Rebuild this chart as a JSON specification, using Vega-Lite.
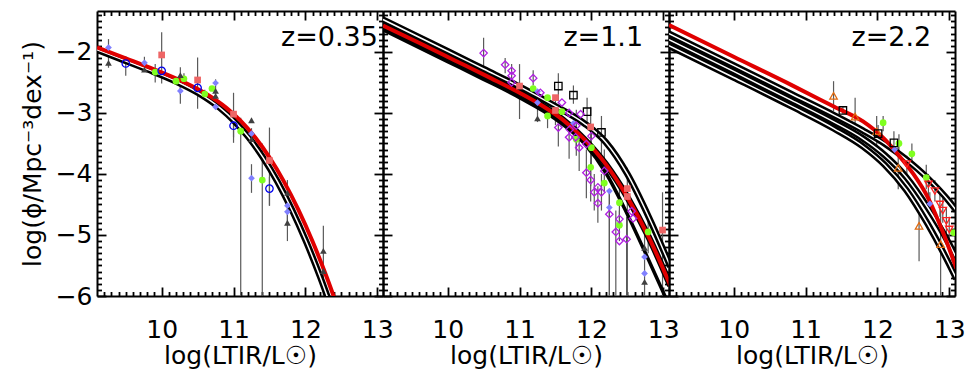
{
"$schema": "https://vega.github.io/schema/vega-lite/v6.json",
"padding": {"left": 20, "top": 3, "right": 5, "bottom": 5},
"background": "white",
"bounds": "flush",
"spacing": 0,
"config": {
 "view": {"stroke": null},
 "axis": {"domainColor": "black", "domainWidth": 2, "tickColor": "black", "tickWidth": 1.8, "grid": false, "labelFont": "DejaVu Sans", "labelFontSize": 25, "labelColor": "black", "titleFont": "DejaVu Sans", "titleFontSize": 25, "titleFontWeight": "normal", "titleColor": "black", "labelFlush": false, "labelOverlap": false}
},
"datasets": {
 "labels": [
  {"panel": 1, "x": 13.01, "y": -1.77, "label": "z=0.35"},
  {"panel": 2, "x": 12.72, "y": -1.78, "label": "z=1.1"},
  {"panel": 3, "x": 12.75, "y": -1.78, "label": "z=2.2"}
 ],
 "models": [
  {"panel":1,"line":"R1","style":"red","x":9.1,"y":-1.925},
  {"panel":1,"line":"R1","style":"red","x":9.5,"y":-2.106},
  {"panel":1,"line":"R1","style":"red","x":9.9,"y":-2.29},
  {"panel":1,"line":"R1","style":"red","x":10.3,"y":-2.49},
  {"panel":1,"line":"R1","style":"red","x":10.6,"y":-2.673},
  {"panel":1,"line":"R1","style":"red","x":10.9,"y":-2.917},
  {"panel":1,"line":"R1","style":"red","x":11.1,"y":-3.132},
  {"panel":1,"line":"R1","style":"red","x":11.3,"y":-3.40},
  {"panel":1,"line":"R1","style":"red","x":11.5,"y":-3.729},
  {"panel":1,"line":"R1","style":"red","x":11.7,"y":-4.122},
  {"panel":1,"line":"R1","style":"red","x":11.9,"y":-4.582},
  {"panel":1,"line":"R1","style":"red","x":12.1,"y":-5.108},
  {"panel":1,"line":"R1","style":"red","x":12.3,"y":-5.70},
  {"panel":1,"line":"R1","style":"red","x":12.5,"y":-6.36},
  {"panel":1,"line":"W1","style":"wc","x":9.01,"y":-1.925},
  {"panel":1,"line":"W1","style":"wc","x":9.41,"y":-2.106},
  {"panel":1,"line":"W1","style":"wc","x":9.81,"y":-2.29},
  {"panel":1,"line":"W1","style":"wc","x":10.21,"y":-2.49},
  {"panel":1,"line":"W1","style":"wc","x":10.51,"y":-2.673},
  {"panel":1,"line":"W1","style":"wc","x":10.81,"y":-2.917},
  {"panel":1,"line":"W1","style":"wc","x":11.01,"y":-3.132},
  {"panel":1,"line":"W1","style":"wc","x":11.21,"y":-3.40},
  {"panel":1,"line":"W1","style":"wc","x":11.41,"y":-3.729},
  {"panel":1,"line":"W1","style":"wc","x":11.61,"y":-4.122},
  {"panel":1,"line":"W1","style":"wc","x":11.81,"y":-4.582},
  {"panel":1,"line":"W1","style":"wc","x":12.01,"y":-5.108},
  {"panel":1,"line":"W1","style":"wc","x":12.21,"y":-5.70},
  {"panel":1,"line":"W1","style":"wc","x":12.41,"y":-6.36},
  {"panel":2,"line":"W2","style":"wc","x":9.1,"y":-1.47},
  {"panel":2,"line":"W2","style":"wc","x":10.0,"y":-1.99},
  {"panel":2,"line":"W2","style":"wc","x":10.5,"y":-2.28},
  {"panel":2,"line":"W2","style":"wc","x":11.0,"y":-2.57},
  {"panel":2,"line":"W2","style":"wc","x":11.5,"y":-2.89},
  {"panel":2,"line":"W2","style":"wc","x":11.9,"y":-3.17},
  {"panel":2,"line":"W2","style":"wc","x":12.2,"y":-3.48},
  {"panel":2,"line":"W2","style":"wc","x":12.5,"y":-4.00},
  {"panel":2,"line":"W2","style":"wc","x":12.8,"y":-4.71},
  {"panel":2,"line":"W2","style":"wc","x":13.1,"y":-5.52},
  {"panel":2,"line":"R2","style":"rc","x":9.1,"y":-1.57},
  {"panel":2,"line":"R2","style":"rc","x":9.6,"y":-1.85},
  {"panel":2,"line":"R2","style":"rc","x":10.1,"y":-2.14},
  {"panel":2,"line":"R2","style":"rc","x":10.6,"y":-2.43},
  {"panel":2,"line":"R2","style":"rc","x":11.0,"y":-2.67},
  {"panel":2,"line":"R2","style":"rc","x":11.3,"y":-2.87},
  {"panel":2,"line":"R2","style":"rc","x":11.6,"y":-3.11},
  {"panel":2,"line":"R2","style":"rc","x":11.9,"y":-3.43},
  {"panel":2,"line":"R2","style":"rc","x":12.2,"y":-3.84},
  {"panel":2,"line":"R2","style":"rc","x":12.5,"y":-4.38},
  {"panel":2,"line":"R2","style":"rc","x":12.8,"y":-5.04},
  {"panel":2,"line":"R2","style":"rc","x":13.1,"y":-5.83},
  {"panel":2,"line":"B2","style":"b","x":9.1,"y":-1.64},
  {"panel":2,"line":"B2","style":"b","x":10.0,"y":-2.16},
  {"panel":2,"line":"B2","style":"b","x":10.5,"y":-2.45},
  {"panel":2,"line":"B2","style":"b","x":11.0,"y":-2.75},
  {"panel":2,"line":"B2","style":"b","x":11.5,"y":-3.10},
  {"panel":2,"line":"B2","style":"b","x":11.9,"y":-3.50},
  {"panel":2,"line":"B2","style":"b","x":12.2,"y":-3.98},
  {"panel":2,"line":"B2","style":"b","x":12.5,"y":-4.66},
  {"panel":2,"line":"B2","style":"b","x":12.8,"y":-5.42},
  {"panel":2,"line":"B2","style":"b","x":13.1,"y":-6.2},
  {"panel":3,"line":"W3a","style":"wc","x":9.1,"y":-1.70},
  {"panel":3,"line":"W3a","style":"wc","x":10.0,"y":-2.22},
  {"panel":3,"line":"W3a","style":"wc","x":10.8,"y":-2.69},
  {"panel":3,"line":"W3a","style":"wc","x":11.4,"y":-3.04},
  {"panel":3,"line":"W3a","style":"wc","x":11.8,"y":-3.29},
  {"panel":3,"line":"W3a","style":"wc","x":12.1,"y":-3.50},
  {"panel":3,"line":"W3a","style":"wc","x":12.4,"y":-3.76},
  {"panel":3,"line":"W3a","style":"wc","x":12.7,"y":-4.07},
  {"panel":3,"line":"W3a","style":"wc","x":13.0,"y":-4.45},
  {"panel":3,"line":"W3a","style":"wc","x":13.1,"y":-4.60},
  {"panel":3,"line":"W3b","style":"wc","x":9.1,"y":-1.80},
  {"panel":3,"line":"W3b","style":"wc","x":10.0,"y":-2.32},
  {"panel":3,"line":"W3b","style":"wc","x":10.8,"y":-2.79},
  {"panel":3,"line":"W3b","style":"wc","x":11.4,"y":-3.15},
  {"panel":3,"line":"W3b","style":"wc","x":11.8,"y":-3.42},
  {"panel":3,"line":"W3b","style":"wc","x":12.1,"y":-3.69},
  {"panel":3,"line":"W3b","style":"wc","x":12.4,"y":-4.05},
  {"panel":3,"line":"W3b","style":"wc","x":12.7,"y":-4.55},
  {"panel":3,"line":"W3b","style":"wc","x":13.0,"y":-5.15},
  {"panel":3,"line":"W3b","style":"wc","x":13.1,"y":-5.38},
  {"panel":3,"line":"W3c","style":"wc","x":9.1,"y":-1.90},
  {"panel":3,"line":"W3c","style":"wc","x":10.0,"y":-2.42},
  {"panel":3,"line":"W3c","style":"wc","x":10.8,"y":-2.89},
  {"panel":3,"line":"W3c","style":"wc","x":11.4,"y":-3.26},
  {"panel":3,"line":"W3c","style":"wc","x":11.8,"y":-3.55},
  {"panel":3,"line":"W3c","style":"wc","x":12.1,"y":-3.85},
  {"panel":3,"line":"W3c","style":"wc","x":12.4,"y":-4.26},
  {"panel":3,"line":"W3c","style":"wc","x":12.7,"y":-4.82},
  {"panel":3,"line":"W3c","style":"wc","x":13.0,"y":-5.48},
  {"panel":3,"line":"W3c","style":"wc","x":13.1,"y":-5.72},
  {"panel":3,"line":"R3","style":"red","x":9.1,"y":-1.56},
  {"panel":3,"line":"R3","style":"red","x":10.0,"y":-2.08},
  {"panel":3,"line":"R3","style":"red","x":10.8,"y":-2.54},
  {"panel":3,"line":"R3","style":"red","x":11.4,"y":-2.90},
  {"panel":3,"line":"R3","style":"red","x":11.8,"y":-3.14},
  {"panel":3,"line":"R3","style":"red","x":12.1,"y":-3.43},
  {"panel":3,"line":"R3","style":"red","x":12.3,"y":-3.70},
  {"panel":3,"line":"R3","style":"red","x":12.5,"y":-4.00},
  {"panel":3,"line":"R3","style":"red","x":12.7,"y":-4.38},
  {"panel":3,"line":"R3","style":"red","x":12.9,"y":-4.92},
  {"panel":3,"line":"R3","style":"red","x":13.1,"y":-5.55}
 ],
 "pts": [
  {"panel":1,"kind":"bluediamond","x":9.26,"y":-1.93,"lo":-2.07,"hi":-1.79},
  {"panel":1,"kind":"triangle","x":9.26,"y":-2.18,"lo":-2.26,"hi":-2.08},
  {"panel":1,"kind":"bluecircle","x":9.50,"y":-2.19,"lo":-2.39,"hi":-2.07},
  {"panel":1,"kind":"bluediamond","x":9.76,"y":-2.18,"lo":-2.30,"hi":-2.08},
  {"panel":1,"kind":"triangle","x":9.76,"y":-2.29},
  {"panel":1,"kind":"green","x":9.91,"y":-2.33,"lo":-2.5,"hi":-2.2},
  {"panel":1,"kind":"salmon","x":10.0,"y":-2.05,"lo":-2.52,"hi":-1.68},
  {"panel":1,"kind":"bluecircle","x":10.0,"y":-2.31},
  {"panel":1,"kind":"green","x":10.20,"y":-2.48},
  {"panel":1,"kind":"green","x":10.31,"y":-2.44,"lo":-2.55,"hi":-2.35},
  {"panel":1,"kind":"triangle","x":10.26,"y":-2.38,"lo":-2.7,"hi":-2.25},
  {"panel":1,"kind":"bluediamond","x":10.26,"y":-2.64,"lo":-2.85,"hi":-2.55},
  {"panel":1,"kind":"salmon","x":10.50,"y":-2.46,"lo":-2.93,"hi":-2.09},
  {"panel":1,"kind":"bluecircle","x":10.50,"y":-2.59},
  {"panel":1,"kind":"green","x":10.60,"y":-2.69,"lo":-2.76,"hi":-2.62},
  {"panel":1,"kind":"green","x":10.70,"y":-2.60},
  {"panel":1,"kind":"triangle","x":10.75,"y":-2.64,"lo":-2.9,"hi":-2.45},
  {"panel":1,"kind":"triangle","x":10.75,"y":-2.72},
  {"panel":1,"kind":"bluediamond","x":10.75,"y":-2.51},
  {"panel":1,"kind":"bluediamond","x":10.75,"y":-2.90},
  {"panel":1,"kind":"salmon","x":11.0,"y":-3.02,"lo":-3.49,"hi":-2.67},
  {"panel":1,"kind":"bluecircle","x":11.0,"y":-3.21,"lo":-3.4,"hi":-3.1},
  {"panel":1,"kind":"green","x":11.10,"y":-3.30,"lo":-6.0,"hi":-3.08},
  {"panel":1,"kind":"triangle","x":11.25,"y":-3.12},
  {"panel":1,"kind":"bluediamond","x":11.25,"y":-3.34,"lo":-3.5,"hi":-3.25},
  {"panel":1,"kind":"triangle","x":11.25,"y":-3.43},
  {"panel":1,"kind":"salmon","x":11.50,"y":-3.78,"lo":-4.52,"hi":-3.24},
  {"panel":1,"kind":"bluediamond","x":11.25,"y":-4.07,"lo":-4.31,"hi":-3.84},
  {"panel":1,"kind":"green","x":11.40,"y":-4.10,"lo":-6.0,"hi":-3.5},
  {"panel":1,"kind":"bluecircle","x":11.50,"y":-4.24,"lo":-4.52,"hi":-4.05},
  {"panel":1,"kind":"triangle","x":11.75,"y":-4.31,"lo":-4.85,"hi":-4.1},
  {"panel":1,"kind":"bluediamond","x":11.75,"y":-4.52},
  {"panel":1,"kind":"bluediamond","x":11.75,"y":-4.62},
  {"panel":1,"kind":"triangle","x":11.75,"y":-4.80,"lo":-5.1,"hi":-4.6},
  {"panel":1,"kind":"triangle","x":12.25,"y":-5.26,"lo":-6.0,"hi":-4.85},
  {"panel":1,"kind":"triangle","x":12.25,"y":-5.59},
  {"panel":2,"kind":"purple","x":10.50,"y":-2.02,"lo":-2.26,"hi":-1.77},
  {"panel":2,"kind":"purple","x":10.80,"y":-2.21,"lo":-2.35,"hi":-2.1},
  {"panel":2,"kind":"purple","x":10.89,"y":-2.31,"lo":-2.6,"hi":-2.2},
  {"panel":2,"kind":"purple","x":10.89,"y":-2.39},
  {"panel":2,"kind":"purple","x":10.89,"y":-2.50},
  {"panel":2,"kind":"salmon","x":11.0,"y":-2.56,"lo":-3.1,"hi":-2.2},
  {"panel":2,"kind":"purple","x":11.19,"y":-2.43,"lo":-2.55,"hi":-2.3},
  {"panel":2,"kind":"green","x":11.19,"y":-2.60},
  {"panel":2,"kind":"bluediamond","x":11.25,"y":-2.65},
  {"panel":2,"kind":"purple","x":11.29,"y":-2.67},
  {"panel":2,"kind":"bluediamond","x":11.25,"y":-2.83,"lo":-3.0,"hi":-2.7},
  {"panel":2,"kind":"triangle","x":11.25,"y":-3.09,"lo":-3.15,"hi":-3.0},
  {"panel":2,"kind":"green","x":11.39,"y":-2.75},
  {"panel":2,"kind":"green","x":11.39,"y":-3.05,"lo":-3.25,"hi":-2.8},
  {"panel":2,"kind":"salmon","x":11.50,"y":-2.75},
  {"panel":2,"kind":"salmon","x":11.50,"y":-2.96,"lo":-3.2,"hi":-2.75},
  {"panel":2,"kind":"blacksquare","x":11.54,"y":-2.56,"lo":-2.8,"hi":-2.35},
  {"panel":2,"kind":"purple","x":11.59,"y":-2.83},
  {"panel":2,"kind":"green","x":11.59,"y":-2.98},
  {"panel":2,"kind":"purple","x":11.54,"y":-3.24,"lo":-3.55,"hi":-3.0},
  {"panel":2,"kind":"blacksquare","x":11.75,"y":-2.71,"lo":-2.85,"hi":-2.55},
  {"panel":2,"kind":"blacksquare","x":11.94,"y":-2.98,"lo":-3.2,"hi":-2.75},
  {"panel":2,"kind":"salmon","x":11.99,"y":-3.23,"lo":-3.55,"hi":-2.9},
  {"panel":2,"kind":"blacksquare","x":12.14,"y":-3.32,"lo":-3.7,"hi":-3.05},
  {"panel":2,"kind":"purple","x":11.69,"y":-3.00},
  {"panel":2,"kind":"purple","x":11.79,"y":-3.21,"lo":-3.6,"hi":-2.95},
  {"panel":2,"kind":"purple","x":11.70,"y":-3.27},
  {"panel":2,"kind":"purple","x":11.69,"y":-3.40,"lo":-3.75,"hi":-3.2},
  {"panel":2,"kind":"purple","x":11.78,"y":-3.40},
  {"panel":2,"kind":"purple","x":11.83,"y":-3.57,"lo":-3.95,"hi":-3.3},
  {"panel":2,"kind":"purple","x":11.93,"y":-3.51},
  {"panel":2,"kind":"purple","x":12.00,"y":-3.38,"lo":-3.6,"hi":-3.2},
  {"panel":2,"kind":"purple","x":11.85,"y":-3.02},
  {"panel":2,"kind":"green","x":11.79,"y":-3.43,"lo":-3.7,"hi":-3.2},
  {"panel":2,"kind":"green","x":12.00,"y":-3.57,"lo":-3.85,"hi":-3.35},
  {"panel":2,"kind":"bluediamond","x":11.75,"y":-3.17},
  {"panel":2,"kind":"purple","x":11.93,"y":-3.98,"lo":-4.4,"hi":-3.6},
  {"panel":2,"kind":"purple","x":12.18,"y":-3.95,"lo":-4.3,"hi":-3.6},
  {"panel":2,"kind":"green","x":11.99,"y":-3.89,"lo":-4.2,"hi":-3.6},
  {"panel":2,"kind":"purple","x":11.99,"y":-4.10,"lo":-4.45,"hi":-3.8},
  {"panel":2,"kind":"purple","x":12.04,"y":-4.30,"lo":-4.6,"hi":-4.0},
  {"panel":2,"kind":"purple","x":12.09,"y":-4.22},
  {"panel":2,"kind":"purple","x":12.14,"y":-4.30,"lo":-4.6,"hi":-4.0},
  {"panel":2,"kind":"purple","x":12.09,"y":-4.48,"lo":-4.8,"hi":-4.2},
  {"panel":2,"kind":"purple","x":12.25,"y":-4.66,"lo":-6.0,"hi":-4.3},
  {"panel":2,"kind":"purple","x":12.39,"y":-4.74},
  {"panel":2,"kind":"purple","x":12.34,"y":-4.95,"lo":-6.0,"hi":-4.6},
  {"panel":2,"kind":"purple","x":12.39,"y":-5.10},
  {"panel":2,"kind":"purple","x":12.49,"y":-5.07,"lo":-6.0,"hi":-4.7},
  {"panel":2,"kind":"purple","x":12.56,"y":-4.61},
  {"panel":2,"kind":"purple","x":12.58,"y":-4.73},
  {"panel":2,"kind":"green","x":12.18,"y":-4.15},
  {"panel":2,"kind":"green","x":12.39,"y":-4.47,"lo":-4.75,"hi":-4.2},
  {"panel":2,"kind":"green","x":12.39,"y":-4.84,"lo":-5.1,"hi":-4.6},
  {"panel":2,"kind":"green","x":12.79,"y":-4.95,"lo":-5.3,"hi":-4.6},
  {"panel":2,"kind":"bluediamond","x":12.25,"y":-4.28},
  {"panel":2,"kind":"bluediamond","x":12.25,"y":-4.55,"lo":-6.0,"hi":-4.3},
  {"panel":2,"kind":"bluediamond","x":12.74,"y":-5.36},
  {"panel":2,"kind":"bluediamond","x":12.74,"y":-5.63},
  {"panel":2,"kind":"triangle","x":12.74,"y":-5.21,"lo":-6.0,"hi":-5.0},
  {"panel":2,"kind":"triangle","x":12.74,"y":-5.77},
  {"panel":2,"kind":"salmon","x":12.50,"y":-4.24,"lo":-6.0,"hi":-3.9},
  {"panel":2,"kind":"salmon","x":12.50,"y":-4.37},
  {"panel":2,"kind":"salmon","x":12.99,"y":-4.92,"lo":-6.0,"hi":-4.3},
  {"panel":3,"kind":"orange","x":11.39,"y":-2.72,"lo":-2.97,"hi":-2.48},
  {"panel":3,"kind":"blacksquare","x":11.52,"y":-2.96,"lo":-3.02,"hi":-2.9},
  {"panel":3,"kind":"orange","x":11.69,"y":-3.06,"lo":-3.3,"hi":-2.75},
  {"panel":3,"kind":"orange","x":11.99,"y":-3.30,"lo":-3.55,"hi":-3.05},
  {"panel":3,"kind":"green","x":12.08,"y":-3.16,"lo":-3.3,"hi":-3.05},
  {"panel":3,"kind":"blacksquare","x":12.01,"y":-3.34,"lo":-3.5,"hi":-3.2},
  {"panel":3,"kind":"blacksquare","x":12.23,"y":-3.49,"lo":-3.65,"hi":-3.3},
  {"panel":3,"kind":"green","x":12.30,"y":-3.50,"lo":-3.65,"hi":-3.35},
  {"panel":3,"kind":"bluediamond","x":12.24,"y":-3.60},
  {"panel":3,"kind":"green","x":12.48,"y":-3.67,"lo":-3.85,"hi":-3.5},
  {"panel":3,"kind":"orange","x":12.29,"y":-3.90,"lo":-4.25,"hi":-3.5},
  {"panel":3,"kind":"redtri","x":12.41,"y":-3.84,"lo":-4.0,"hi":-3.7},
  {"panel":3,"kind":"green","x":12.68,"y":-4.06,"lo":-4.25,"hi":-3.85},
  {"panel":3,"kind":"redtri","x":12.71,"y":-4.17,"lo":-4.35,"hi":-4.0},
  {"panel":3,"kind":"redtri","x":12.80,"y":-4.28,"lo":-4.45,"hi":-4.1},
  {"panel":3,"kind":"bluediamond","x":12.73,"y":-4.49,"lo":-4.65,"hi":-4.3},
  {"panel":3,"kind":"redtri","x":12.87,"y":-4.50,"lo":-4.7,"hi":-4.3},
  {"panel":3,"kind":"redtri","x":12.91,"y":-4.60,"lo":-4.8,"hi":-4.4},
  {"panel":3,"kind":"redtri","x":12.96,"y":-4.77,"lo":-5.0,"hi":-4.55},
  {"panel":3,"kind":"redtri","x":13.00,"y":-4.91,"lo":-5.1,"hi":-4.7},
  {"panel":3,"kind":"orange","x":12.58,"y":-4.85,"lo":-5.43,"hi":-4.64},
  {"panel":3,"kind":"orange","x":12.88,"y":-5.15,"lo":-6.0,"hi":-4.6},
  {"panel":3,"kind":"green","x":13.06,"y":-4.96}
 ]
},
"hconcat": [
 {
  "width": 286, "height": 285,
  "resolve": {"axis": {"x": "independent", "y": "independent"}},
  "layer": [
   {"data": {"name": "pts"}, "transform": [{"filter": "datum.panel == 1 && isValid(datum.lo)"}],
    "mark": {"type": "rule", "color": "#5a5a5a", "strokeWidth": 1.2, "clip": true},
    "encoding": {
     "x": {"field": "x", "type": "quantitative", "scale": {"domain": [9.1, 13.08], "nice": false, "zero": false},
      "axis": {"orient": "bottom", "values": [9.2,9.3,9.4,9.5,9.6,9.7,9.8,9.9,10,10.1,10.2,10.3,10.4,10.5,10.6,10.7,10.8,10.9,11,11.1,11.2,11.3,11.4,11.5,11.6,11.7,11.8,11.9,12,12.1,12.2,12.3,12.4,12.5,12.6,12.7,12.8,12.9,13],
       "labelExpr": "abs(datum.value - round(datum.value)) < 0.01 ? format(datum.value, '.0f') : ''",
       "tickSize": {"condition": {"test": "abs(datum.value - round(datum.value)) < 0.01", "value": -9}, "value": -4.5},
       "labelPadding": 30, "title": "log(LTIR/L☉)", "titlePadding": -3}},
     "y": {"field": "lo", "type": "quantitative", "scale": {"domain": [-6, -1.33], "nice": false, "zero": false},
      "axis": {"orient": "left", "values": [-6,-5.9,-5.8,-5.7,-5.6,-5.5,-5.4,-5.3,-5.2,-5.1,-5,-4.9,-4.8,-4.7,-4.6,-4.5,-4.4,-4.3,-4.2,-4.1,-4,-3.9,-3.8,-3.7,-3.6,-3.5,-3.4,-3.3,-3.2,-3.1,-3,-2.9,-2.8,-2.7,-2.6,-2.5,-2.4,-2.3,-2.2,-2.1,-2,-1.9,-1.8,-1.7,-1.6,-1.5,-1.4],
       "labelExpr": "abs(datum.value - round(datum.value)) < 0.01 ? format(datum.value, '.0f') : ''",
       "tickSize": {"condition": {"test": "abs(datum.value - round(datum.value)) < 0.01", "value": -9}, "value": -4.5},
       "labelPadding": 14, "title": "log(ϕ/Mpc⁻³dex⁻¹)", "titlePadding": 10}},
     "y2": {"field": "hi"}
    }},
   {"data": {"name": "labels"}, "transform": [{"filter": "datum.panel == 1"}],
    "mark": {"type": "text", "align": "right", "baseline": "middle", "font": "DejaVu Sans", "fontSize": 27, "color": "black"},
    "encoding": {
     "x": {"field": "x", "type": "quantitative", "scale": {"domain": [9.1, 13.08], "nice": false, "zero": false},
      "axis": {"orient": "top", "values": [9.2,9.3,9.4,9.5,9.6,9.7,9.8,9.9,10,10.1,10.2,10.3,10.4,10.5,10.6,10.7,10.8,10.9,11,11.1,11.2,11.3,11.4,11.5,11.6,11.7,11.8,11.9,12,12.1,12.2,12.3,12.4,12.5,12.6,12.7,12.8,12.9,13],
       "labels": false, "title": null,
       "tickSize": {"condition": {"test": "abs(datum.value - round(datum.value)) < 0.01", "value": -9}, "value": -4.5}}},
     "y": {"field": "y", "type": "quantitative", "scale": {"domain": [-6, -1.33], "nice": false, "zero": false},
      "axis": {"orient": "right", "values": [-6,-5.9,-5.8,-5.7,-5.6,-5.5,-5.4,-5.3,-5.2,-5.1,-5,-4.9,-4.8,-4.7,-4.6,-4.5,-4.4,-4.3,-4.2,-4.1,-4,-3.9,-3.8,-3.7,-3.6,-3.5,-3.4,-3.3,-3.2,-3.1,-3,-2.9,-2.8,-2.7,-2.6,-2.5,-2.4,-2.3,-2.2,-2.1,-2,-1.9,-1.8,-1.7,-1.6,-1.5,-1.4],
       "labels": false, "title": null,
       "tickSize": {"condition": {"test": "abs(datum.value - round(datum.value)) < 0.01", "value": -9}, "value": -4.5}}},
     "text": {"field": "label"}
    }},
   {"data": {"name": "models"}, "transform": [{"filter": "datum.panel == 1 && (datum.style == 'wc' || datum.style == 'rc')"}],
    "mark": {"type": "line", "color": "black", "strokeWidth": 6.5, "interpolate": "monotone", "clip": true},
    "encoding": {"x": {"field": "x", "type": "quantitative", "axis": null}, "y": {"field": "y", "type": "quantitative", "axis": null}, "detail": {"field": "line"}}},
   {"data": {"name": "models"}, "transform": [{"filter": "datum.panel == 1 && datum.style == 'b'"}],
    "mark": {"type": "line", "color": "black", "strokeWidth": 3.5, "interpolate": "monotone", "clip": true},
    "encoding": {"x": {"field": "x", "type": "quantitative", "axis": null}, "y": {"field": "y", "type": "quantitative", "axis": null}, "detail": {"field": "line"}}},
   {"data": {"name": "models"}, "transform": [{"filter": "datum.panel == 1 && datum.style == 'wc'"}],
    "mark": {"type": "line", "color": "white", "strokeWidth": 1.5, "interpolate": "monotone", "clip": true},
    "encoding": {"x": {"field": "x", "type": "quantitative", "axis": null}, "y": {"field": "y", "type": "quantitative", "axis": null}, "detail": {"field": "line"}}},
   {"data": {"name": "models"}, "transform": [{"filter": "datum.panel == 1 && (datum.style == 'red' || datum.style == 'rc')"}],
    "mark": {"type": "line", "color": "#e00000", "strokeWidth": 4, "interpolate": "monotone", "clip": true},
    "encoding": {"x": {"field": "x", "type": "quantitative", "axis": null}, "y": {"field": "y", "type": "quantitative", "axis": null}, "detail": {"field": "line"}}},
   {"data": {"name": "pts"}, "transform": [{"filter": "datum.panel == 1 && indexof(['green','salmon','bluediamond','triangle'], datum.kind) >= 0"}],
    "mark": {"type": "point", "filled": true, "opacity": 1, "size": 45, "clip": true},
    "encoding": {"x": {"field": "x", "type": "quantitative", "axis": null}, "y": {"field": "y", "type": "quantitative", "axis": null},
     "shape": {"field": "kind", "type": "nominal", "legend": null, "scale": {"domain": ["green","salmon","bluediamond","triangle","bluecircle","purple","blacksquare","orange","redtri"], "range": ["circle","square","diamond","triangle-up","circle","diamond","square","triangle-up","triangle-down"]}},
     "color": {"field": "kind", "type": "nominal", "legend": null, "scale": {"domain": ["green","salmon","bluediamond","triangle","bluecircle","purple","blacksquare","orange","redtri"], "range": ["#7fff20","#ee6666","#8080ff","#404040","#0000ee","#b020e0","#000000","#e06a10","#ff2020"]}}}},
   {"data": {"name": "pts"}, "transform": [{"filter": "datum.panel == 1 && indexof(['bluecircle','purple','blacksquare','orange','redtri'], datum.kind) >= 0"}],
    "mark": {"type": "point", "filled": false, "opacity": 1, "size": 55, "strokeWidth": 1.3, "clip": true},
    "encoding": {"x": {"field": "x", "type": "quantitative", "axis": null}, "y": {"field": "y", "type": "quantitative", "axis": null},
     "shape": {"field": "kind", "type": "nominal", "legend": null, "scale": {"domain": ["green","salmon","bluediamond","triangle","bluecircle","purple","blacksquare","orange","redtri"], "range": ["circle","square","diamond","triangle-up","circle","diamond","square","triangle-up","triangle-down"]}},
     "color": {"field": "kind", "type": "nominal", "legend": null, "scale": {"domain": ["green","salmon","bluediamond","triangle","bluecircle","purple","blacksquare","orange","redtri"], "range": ["#7fff20","#ee6666","#8080ff","#404040","#0000ee","#b020e0","#000000","#e06a10","#ff2020"]}}}}
  ]
 },
 {
  "width": 286, "height": 285,
  "resolve": {"axis": {"x": "independent", "y": "independent"}},
  "layer": [
   {"data": {"name": "pts"}, "transform": [{"filter": "datum.panel == 2 && isValid(datum.lo)"}],
    "mark": {"type": "rule", "color": "#5a5a5a", "strokeWidth": 1.2, "clip": true},
    "encoding": {
     "x": {"field": "x", "type": "quantitative", "scale": {"domain": [9.1, 13.08], "nice": false, "zero": false},
      "axis": {"orient": "bottom", "values": [9.2,9.3,9.4,9.5,9.6,9.7,9.8,9.9,10,10.1,10.2,10.3,10.4,10.5,10.6,10.7,10.8,10.9,11,11.1,11.2,11.3,11.4,11.5,11.6,11.7,11.8,11.9,12,12.1,12.2,12.3,12.4,12.5,12.6,12.7,12.8,12.9,13],
       "labelExpr": "abs(datum.value - round(datum.value)) < 0.01 ? format(datum.value, '.0f') : ''",
       "tickSize": {"condition": {"test": "abs(datum.value - round(datum.value)) < 0.01", "value": -9}, "value": -4.5},
       "labelPadding": 30, "title": "log(LTIR/L☉)", "titlePadding": -3}},
     "y": {"field": "lo", "type": "quantitative", "scale": {"domain": [-6, -1.33], "nice": false, "zero": false},
      "axis": {"orient": "left", "values": [-6,-5.9,-5.8,-5.7,-5.6,-5.5,-5.4,-5.3,-5.2,-5.1,-5,-4.9,-4.8,-4.7,-4.6,-4.5,-4.4,-4.3,-4.2,-4.1,-4,-3.9,-3.8,-3.7,-3.6,-3.5,-3.4,-3.3,-3.2,-3.1,-3,-2.9,-2.8,-2.7,-2.6,-2.5,-2.4,-2.3,-2.2,-2.1,-2,-1.9,-1.8,-1.7,-1.6,-1.5,-1.4],
       "labels": false, "title": null,
       "tickSize": {"condition": {"test": "abs(datum.value - round(datum.value)) < 0.01", "value": -9}, "value": -4.5}}},
     "y2": {"field": "hi"}
    }},
   {"data": {"name": "labels"}, "transform": [{"filter": "datum.panel == 2"}],
    "mark": {"type": "text", "align": "right", "baseline": "middle", "font": "DejaVu Sans", "fontSize": 27, "color": "black"},
    "encoding": {
     "x": {"field": "x", "type": "quantitative", "scale": {"domain": [9.1, 13.08], "nice": false, "zero": false},
      "axis": {"orient": "top", "values": [9.2,9.3,9.4,9.5,9.6,9.7,9.8,9.9,10,10.1,10.2,10.3,10.4,10.5,10.6,10.7,10.8,10.9,11,11.1,11.2,11.3,11.4,11.5,11.6,11.7,11.8,11.9,12,12.1,12.2,12.3,12.4,12.5,12.6,12.7,12.8,12.9,13],
       "labels": false, "title": null,
       "tickSize": {"condition": {"test": "abs(datum.value - round(datum.value)) < 0.01", "value": -9}, "value": -4.5}}},
     "y": {"field": "y", "type": "quantitative", "scale": {"domain": [-6, -1.33], "nice": false, "zero": false},
      "axis": {"orient": "right", "values": [-6,-5.9,-5.8,-5.7,-5.6,-5.5,-5.4,-5.3,-5.2,-5.1,-5,-4.9,-4.8,-4.7,-4.6,-4.5,-4.4,-4.3,-4.2,-4.1,-4,-3.9,-3.8,-3.7,-3.6,-3.5,-3.4,-3.3,-3.2,-3.1,-3,-2.9,-2.8,-2.7,-2.6,-2.5,-2.4,-2.3,-2.2,-2.1,-2,-1.9,-1.8,-1.7,-1.6,-1.5,-1.4],
       "labels": false, "title": null,
       "tickSize": {"condition": {"test": "abs(datum.value - round(datum.value)) < 0.01", "value": -9}, "value": -4.5}}},
     "text": {"field": "label"}
    }},
   {"data": {"name": "models"}, "transform": [{"filter": "datum.panel == 2 && (datum.style == 'wc' || datum.style == 'rc')"}],
    "mark": {"type": "line", "color": "black", "strokeWidth": 6.5, "interpolate": "monotone", "clip": true},
    "encoding": {"x": {"field": "x", "type": "quantitative", "axis": null}, "y": {"field": "y", "type": "quantitative", "axis": null}, "detail": {"field": "line"}}},
   {"data": {"name": "models"}, "transform": [{"filter": "datum.panel == 2 && datum.style == 'b'"}],
    "mark": {"type": "line", "color": "black", "strokeWidth": 3.5, "interpolate": "monotone", "clip": true},
    "encoding": {"x": {"field": "x", "type": "quantitative", "axis": null}, "y": {"field": "y", "type": "quantitative", "axis": null}, "detail": {"field": "line"}}},
   {"data": {"name": "models"}, "transform": [{"filter": "datum.panel == 2 && datum.style == 'wc'"}],
    "mark": {"type": "line", "color": "white", "strokeWidth": 1.5, "interpolate": "monotone", "clip": true},
    "encoding": {"x": {"field": "x", "type": "quantitative", "axis": null}, "y": {"field": "y", "type": "quantitative", "axis": null}, "detail": {"field": "line"}}},
   {"data": {"name": "models"}, "transform": [{"filter": "datum.panel == 2 && (datum.style == 'red' || datum.style == 'rc')"}],
    "mark": {"type": "line", "color": "#e00000", "strokeWidth": 4, "interpolate": "monotone", "clip": true},
    "encoding": {"x": {"field": "x", "type": "quantitative", "axis": null}, "y": {"field": "y", "type": "quantitative", "axis": null}, "detail": {"field": "line"}}},
   {"data": {"name": "pts"}, "transform": [{"filter": "datum.panel == 2 && indexof(['green','salmon','bluediamond','triangle'], datum.kind) >= 0"}],
    "mark": {"type": "point", "filled": true, "opacity": 1, "size": 45, "clip": true},
    "encoding": {"x": {"field": "x", "type": "quantitative", "axis": null}, "y": {"field": "y", "type": "quantitative", "axis": null},
     "shape": {"field": "kind", "type": "nominal", "legend": null, "scale": {"domain": ["green","salmon","bluediamond","triangle","bluecircle","purple","blacksquare","orange","redtri"], "range": ["circle","square","diamond","triangle-up","circle","diamond","square","triangle-up","triangle-down"]}},
     "color": {"field": "kind", "type": "nominal", "legend": null, "scale": {"domain": ["green","salmon","bluediamond","triangle","bluecircle","purple","blacksquare","orange","redtri"], "range": ["#7fff20","#ee6666","#8080ff","#404040","#0000ee","#b020e0","#000000","#e06a10","#ff2020"]}}}},
   {"data": {"name": "pts"}, "transform": [{"filter": "datum.panel == 2 && indexof(['bluecircle','purple','blacksquare','orange','redtri'], datum.kind) >= 0"}],
    "mark": {"type": "point", "filled": false, "opacity": 1, "size": 55, "strokeWidth": 1.3, "clip": true},
    "encoding": {"x": {"field": "x", "type": "quantitative", "axis": null}, "y": {"field": "y", "type": "quantitative", "axis": null},
     "shape": {"field": "kind", "type": "nominal", "legend": null, "scale": {"domain": ["green","salmon","bluediamond","triangle","bluecircle","purple","blacksquare","orange","redtri"], "range": ["circle","square","diamond","triangle-up","circle","diamond","square","triangle-up","triangle-down"]}},
     "color": {"field": "kind", "type": "nominal", "legend": null, "scale": {"domain": ["green","salmon","bluediamond","triangle","bluecircle","purple","blacksquare","orange","redtri"], "range": ["#7fff20","#ee6666","#8080ff","#404040","#0000ee","#b020e0","#000000","#e06a10","#ff2020"]}}}}
  ]
 },
 {
  "width": 286, "height": 285,
  "resolve": {"axis": {"x": "independent", "y": "independent"}},
  "layer": [
   {"data": {"name": "pts"}, "transform": [{"filter": "datum.panel == 3 && isValid(datum.lo)"}],
    "mark": {"type": "rule", "color": "#5a5a5a", "strokeWidth": 1.2, "clip": true},
    "encoding": {
     "x": {"field": "x", "type": "quantitative", "scale": {"domain": [9.1, 13.08], "nice": false, "zero": false},
      "axis": {"orient": "bottom", "values": [9.2,9.3,9.4,9.5,9.6,9.7,9.8,9.9,10,10.1,10.2,10.3,10.4,10.5,10.6,10.7,10.8,10.9,11,11.1,11.2,11.3,11.4,11.5,11.6,11.7,11.8,11.9,12,12.1,12.2,12.3,12.4,12.5,12.6,12.7,12.8,12.9,13],
       "labelExpr": "abs(datum.value - round(datum.value)) < 0.01 ? format(datum.value, '.0f') : ''",
       "tickSize": {"condition": {"test": "abs(datum.value - round(datum.value)) < 0.01", "value": -9}, "value": -4.5},
       "labelPadding": 30, "title": "log(LTIR/L☉)", "titlePadding": -3}},
     "y": {"field": "lo", "type": "quantitative", "scale": {"domain": [-6, -1.33], "nice": false, "zero": false},
      "axis": {"orient": "left", "values": [-6,-5.9,-5.8,-5.7,-5.6,-5.5,-5.4,-5.3,-5.2,-5.1,-5,-4.9,-4.8,-4.7,-4.6,-4.5,-4.4,-4.3,-4.2,-4.1,-4,-3.9,-3.8,-3.7,-3.6,-3.5,-3.4,-3.3,-3.2,-3.1,-3,-2.9,-2.8,-2.7,-2.6,-2.5,-2.4,-2.3,-2.2,-2.1,-2,-1.9,-1.8,-1.7,-1.6,-1.5,-1.4],
       "labels": false, "title": null,
       "tickSize": {"condition": {"test": "abs(datum.value - round(datum.value)) < 0.01", "value": -9}, "value": -4.5}}},
     "y2": {"field": "hi"}
    }},
   {"data": {"name": "labels"}, "transform": [{"filter": "datum.panel == 3"}],
    "mark": {"type": "text", "align": "right", "baseline": "middle", "font": "DejaVu Sans", "fontSize": 27, "color": "black"},
    "encoding": {
     "x": {"field": "x", "type": "quantitative", "scale": {"domain": [9.1, 13.08], "nice": false, "zero": false},
      "axis": {"orient": "top", "values": [9.2,9.3,9.4,9.5,9.6,9.7,9.8,9.9,10,10.1,10.2,10.3,10.4,10.5,10.6,10.7,10.8,10.9,11,11.1,11.2,11.3,11.4,11.5,11.6,11.7,11.8,11.9,12,12.1,12.2,12.3,12.4,12.5,12.6,12.7,12.8,12.9,13],
       "labels": false, "title": null,
       "tickSize": {"condition": {"test": "abs(datum.value - round(datum.value)) < 0.01", "value": -9}, "value": -4.5}}},
     "y": {"field": "y", "type": "quantitative", "scale": {"domain": [-6, -1.33], "nice": false, "zero": false},
      "axis": {"orient": "right", "values": [-6,-5.9,-5.8,-5.7,-5.6,-5.5,-5.4,-5.3,-5.2,-5.1,-5,-4.9,-4.8,-4.7,-4.6,-4.5,-4.4,-4.3,-4.2,-4.1,-4,-3.9,-3.8,-3.7,-3.6,-3.5,-3.4,-3.3,-3.2,-3.1,-3,-2.9,-2.8,-2.7,-2.6,-2.5,-2.4,-2.3,-2.2,-2.1,-2,-1.9,-1.8,-1.7,-1.6,-1.5,-1.4],
       "labels": false, "title": null,
       "tickSize": {"condition": {"test": "abs(datum.value - round(datum.value)) < 0.01", "value": -9}, "value": -4.5}}},
     "text": {"field": "label"}
    }},
   {"data": {"name": "models"}, "transform": [{"filter": "datum.panel == 3 && (datum.style == 'wc' || datum.style == 'rc')"}],
    "mark": {"type": "line", "color": "black", "strokeWidth": 6.5, "interpolate": "monotone", "clip": true},
    "encoding": {"x": {"field": "x", "type": "quantitative", "axis": null}, "y": {"field": "y", "type": "quantitative", "axis": null}, "detail": {"field": "line"}}},
   {"data": {"name": "models"}, "transform": [{"filter": "datum.panel == 3 && datum.style == 'b'"}],
    "mark": {"type": "line", "color": "black", "strokeWidth": 3.5, "interpolate": "monotone", "clip": true},
    "encoding": {"x": {"field": "x", "type": "quantitative", "axis": null}, "y": {"field": "y", "type": "quantitative", "axis": null}, "detail": {"field": "line"}}},
   {"data": {"name": "models"}, "transform": [{"filter": "datum.panel == 3 && datum.style == 'wc'"}],
    "mark": {"type": "line", "color": "white", "strokeWidth": 1.5, "interpolate": "monotone", "clip": true},
    "encoding": {"x": {"field": "x", "type": "quantitative", "axis": null}, "y": {"field": "y", "type": "quantitative", "axis": null}, "detail": {"field": "line"}}},
   {"data": {"name": "models"}, "transform": [{"filter": "datum.panel == 3 && (datum.style == 'red' || datum.style == 'rc')"}],
    "mark": {"type": "line", "color": "#e00000", "strokeWidth": 4, "interpolate": "monotone", "clip": true},
    "encoding": {"x": {"field": "x", "type": "quantitative", "axis": null}, "y": {"field": "y", "type": "quantitative", "axis": null}, "detail": {"field": "line"}}},
   {"data": {"name": "pts"}, "transform": [{"filter": "datum.panel == 3 && indexof(['green','salmon','bluediamond','triangle'], datum.kind) >= 0"}],
    "mark": {"type": "point", "filled": true, "opacity": 1, "size": 45, "clip": true},
    "encoding": {"x": {"field": "x", "type": "quantitative", "axis": null}, "y": {"field": "y", "type": "quantitative", "axis": null},
     "shape": {"field": "kind", "type": "nominal", "legend": null, "scale": {"domain": ["green","salmon","bluediamond","triangle","bluecircle","purple","blacksquare","orange","redtri"], "range": ["circle","square","diamond","triangle-up","circle","diamond","square","triangle-up","triangle-down"]}},
     "color": {"field": "kind", "type": "nominal", "legend": null, "scale": {"domain": ["green","salmon","bluediamond","triangle","bluecircle","purple","blacksquare","orange","redtri"], "range": ["#7fff20","#ee6666","#8080ff","#404040","#0000ee","#b020e0","#000000","#e06a10","#ff2020"]}}}},
   {"data": {"name": "pts"}, "transform": [{"filter": "datum.panel == 3 && indexof(['bluecircle','purple','blacksquare','orange','redtri'], datum.kind) >= 0"}],
    "mark": {"type": "point", "filled": false, "opacity": 1, "size": 55, "strokeWidth": 1.3, "clip": true},
    "encoding": {"x": {"field": "x", "type": "quantitative", "axis": null}, "y": {"field": "y", "type": "quantitative", "axis": null},
     "shape": {"field": "kind", "type": "nominal", "legend": null, "scale": {"domain": ["green","salmon","bluediamond","triangle","bluecircle","purple","blacksquare","orange","redtri"], "range": ["circle","square","diamond","triangle-up","circle","diamond","square","triangle-up","triangle-down"]}},
     "color": {"field": "kind", "type": "nominal", "legend": null, "scale": {"domain": ["green","salmon","bluediamond","triangle","bluecircle","purple","blacksquare","orange","redtri"], "range": ["#7fff20","#ee6666","#8080ff","#404040","#0000ee","#b020e0","#000000","#e06a10","#ff2020"]}}}}
  ]
 }
]
}
